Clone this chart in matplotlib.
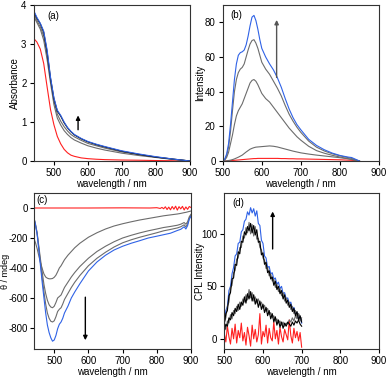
import numpy as np
import matplotlib
matplotlib.use('Agg')
import matplotlib.pyplot as plt

plt.rcParams['font.family'] = ['Liberation Sans', 'DejaVu Sans']
plt.rcParams['font.size'] = 7
plt.rcParams['axes.unicode_minus'] = False

BLUE = '#2f62e6'
RED = '#ff2020'
GREY = '#6c6c6c'
BLACK = '#000000'

# (a) absorbance
abs_wl = [440, 450, 460, 470, 480, 490, 500, 510, 520, 530, 540, 550, 560, 580,
          600, 625, 650, 700, 750, 800, 850, 900]
abs_red = [3.15, 3.05, 2.87, 2.5, 1.9, 1.32, 0.93, 0.63, 0.44, 0.3, 0.21, 0.15,
           0.12, 0.08, 0.06, 0.045, 0.035, 0.025, 0.02, 0.012, 0.006, 0.0]
abs_grey1 = [3.72, 3.55, 3.38, 3.1, 2.6, 2.0, 1.45, 1.1, 0.92, 0.78, 0.68, 0.6,
             0.54, 0.46, 0.39, 0.33, 0.28, 0.2, 0.14, 0.09, 0.04, 0.0]
abs_grey2 = [3.78, 3.6, 3.44, 3.2, 2.7, 2.08, 1.53, 1.2, 1.02, 0.88, 0.77, 0.68,
             0.62, 0.53, 0.45, 0.39, 0.33, 0.23, 0.16, 0.1, 0.045, 0.0]
abs_black = [3.84, 3.66, 3.52, 3.3, 2.8, 2.12, 1.6, 1.28, 1.15, 0.98, 0.85, 0.75,
             0.67, 0.57, 0.49, 0.42, 0.36, 0.25, 0.17, 0.1, 0.05, 0.0]
abs_blue = [3.87, 3.68, 3.53, 3.33, 2.85, 2.15, 1.62, 1.3, 1.17, 1.0, 0.86, 0.76,
            0.68, 0.58, 0.5, 0.43, 0.37, 0.26, 0.18, 0.11, 0.05, 0.0]

# (b) emission
em_wl = [500, 505, 510, 515, 520, 525, 530, 535, 540, 545, 550, 555, 560, 565,
         570, 575, 580, 585, 590, 595, 600, 610, 620, 630, 640, 650, 660, 670,
         680, 690, 700, 720, 740, 760, 780, 800, 820, 830, 840, 850]
em_red = [0, 0, 0, 0.1, 0.2, 0.3, 0.4, 0.5, 0.6, 0.7, 0.8, 0.9, 1.0, 1.1,
          1.2, 1.3, 1.4, 1.4, 1.5, 1.5, 1.5, 1.5, 1.5, 1.5, 1.5, 1.4, 1.4, 1.3,
          1.3, 1.2, 1.2, 1.1, 1.0, 0.9, 0.8, 0.7, 0.5, 0.4, 0.2, 0]
em_grey1 = [0, 0, 0.1, 0.3, 0.5, 0.8, 1.2, 1.7, 2.2, 2.8, 3.4, 4.3, 5.2, 6.0,
            6.8, 7.3, 7.7, 8.0, 8.1, 8.2, 8.3, 8.5, 8.7, 8.5, 8.1, 7.5, 6.9, 6.3,
            5.7, 5.2, 4.7, 4.0, 3.4, 2.9, 2.4, 1.9, 1.3, 0.9, 0.5, 0]
em_grey2 = [0, 0.5, 2, 5, 10, 15, 21, 26, 29, 31, 33, 36, 39, 42,
            45, 46.5, 47, 46, 44, 41.5, 39, 36, 34, 31, 28, 25, 22, 19,
            16.5, 14, 12, 8.5, 6, 4.5, 3.3, 2.3, 1.4, 0.9, 0.4, 0]
em_grey3 = [0, 0.8, 3, 8, 17, 29, 40, 47, 51, 53, 54, 56, 60, 64,
            67.5, 69.5, 70, 68, 65, 61, 57, 53, 50, 46, 42, 37.5, 32, 27,
            23, 19.5, 16.5, 11.5, 8, 5.8, 4.2, 3.0, 2.0, 1.5, 0.7, 0]
em_blue = [0, 1, 4, 10, 21, 34, 47, 56, 61, 62.5, 63, 64, 67, 72,
           78, 83, 84, 81, 76, 70, 65, 60, 56, 52.5, 48, 42.5, 36, 30,
           25, 21, 18, 12.5, 9, 6.5, 4.6, 3.2, 2.3, 2.0, 1.0, 0]

# (c) CD
cd_wl = [440, 445, 450, 455, 460, 465, 470, 475, 480, 485, 490, 495, 500, 505,
         510, 515, 520, 525, 530, 540, 550, 560, 575, 600, 625, 650, 675, 700,
         725, 750, 775, 800, 820, 840, 860, 870, 880, 885, 890, 895, 900]
cd_blue = [-58, -110, -175, -280, -390, -500, -600, -700, -780, -830, -865, -888,
           -880, -850, -805, -775, -760, -735, -700, -655, -600, -560, -505, -420,
           -360, -315, -280, -255, -235, -218, -200, -188, -178, -168, -150, -142,
           -125, -140, -118, -75, -55]
cd_grey3 = [-60, -110, -170, -270, -370, -470, -560, -640, -700, -735, -755, -760,
            -752, -725, -690, -675, -665, -640, -610, -570, -530, -495, -450, -385,
            -335, -295, -260, -232, -212, -195, -180, -165, -152, -143, -133, -125,
            -112, -126, -106, -68, -48]
cd_grey2 = [-60, -105, -165, -255, -345, -430, -510, -570, -615, -645, -660, -665,
            -655, -630, -600, -590, -580, -555, -530, -495, -460, -430, -390, -335,
            -290, -255, -225, -200, -182, -166, -152, -140, -130, -123, -115, -108,
            -97, -108, -92, -58, -42]
cd_grey1 = [-200, -230, -270, -320, -365, -405, -440, -460, -468, -472, -472, -470,
            -462, -448, -425, -400, -385, -365, -345, -315, -290, -265, -235, -195,
            -165, -140, -120, -105, -92, -80, -70, -60, -52, -46, -40, -36,
            -31, -29, -26, -23, -20]
cd_red_wl = [440, 500, 600, 700, 780, 800, 810, 815, 820, 825, 830, 835, 840, 845,
             850, 855, 860, 865, 870, 875, 880, 885, 890, 895, 900]
cd_red = [0, 0, 0, 1, 0, 2, -3, 4, -5, 8, -10, 6, -12, 10, -8, 12, -14, 9, -6,
          11, -13, 7, -9, 10, 3]

# (d) CPL
cpl_wl = list(range(500, 701, 4))
cpl_blue = [17, 27, 31, 46, 50, 62, 68, 79, 81, 91, 92, 102, 104, 112, 114, 121,
            118, 125, 120, 124, 117, 122, 110, 108, 94, 91, 79, 77, 68, 69, 62, 63,
            57, 58, 52, 54, 48, 50, 43, 44, 38, 39, 33, 35, 28, 30, 24, 25, 19, 21, 15]
cpl_black_hi = [14, 24, 27, 41, 44, 57, 58, 71, 70, 83, 81, 93, 92, 102, 99, 107,
                103, 110, 101, 108, 99, 104, 92, 93, 80, 82, 71, 73, 63, 65, 57, 59,
                51, 55, 47, 50, 43, 46, 38, 42, 34, 37, 30, 33, 26, 29, 22, 26, 18, 22, 16]
cpl_grey_hi = [16, 20, 31, 35, 49, 51, 63, 65, 76, 77, 87, 87, 98, 96, 106, 101,
               111, 100, 109, 98, 107, 95, 96, 87, 85, 77, 75, 67, 68, 60, 62, 55,
               57, 49, 52, 45, 48, 41, 44, 36, 39, 32, 35, 28, 31, 24, 27, 20, 24, 17, 20]
cpl_black_lo = [7, 14, 12, 20, 18, 25, 22, 29, 26, 33, 28, 35, 32, 40, 34, 43,
                38, 45, 36, 42, 33, 38, 30, 36, 28, 33, 25, 30, 22, 27, 19, 24,
                16, 21, 13, 18, 11, 16, 10, 15, 12, 16, 14, 12, 16, 13, 17, 15, 18, 14, 12]
cpl_grey_lo = [11, 9, 17, 15, 23, 19, 27, 24, 31, 27, 35, 31, 38, 35, 42, 37,
               47, 39, 44, 36, 40, 34, 38, 32, 35, 29, 32, 26, 29, 23, 25, 20,
               22, 17, 19, 15, 17, 13, 16, 12, 15, 14, 18, 16, 20, 17, 22, 19, 24, 21, 18]
cpl_red = [5, -3, 12, 2, -5, 10, 0, 14, -4, 8, 1, 15, -2, 6, -6, 11,
           3, -7, 13, 0, 9, -3, 4, 24, -5, 7, 2, 13, -4, 10, 1, -2,
           16, 0, 8, -5, 11, 2, -3, 9, 4, -1, 18, 3, -4, 10, 1, 7, -2, 6, -8]

W, H = 390, 380
fig = plt.figure(figsize=(W / 100, H / 100), dpi=100)


def make_ax(l, r, t, b):
    return fig.add_axes([l / W, (H - b) / H, (r - l) / W, (b - t) / H])


ax_a = make_ax(33.5, 190, 5, 161)
ax_b = make_ax(222.7, 379, 5, 161)
ax_c = make_ax(33.7, 191, 193, 349)
ax_d = make_ax(224.3, 379, 193, 349.3)

lw = 0.8

ax_a.plot(abs_wl, abs_red, color=RED, lw=lw)
ax_a.plot(abs_wl, abs_grey1, color=GREY, lw=lw)
ax_a.plot(abs_wl, abs_grey2, color=GREY, lw=lw)
ax_a.plot(abs_wl, abs_black, color=BLACK, lw=lw)
ax_a.plot(abs_wl, abs_blue, color=BLUE, lw=lw)
ax_a.set_xlim(440, 900)
ax_a.set_ylim(0, 4)
ax_a.set_xticks([500, 600, 700, 800, 900])
ax_a.set_yticks([0, 1, 2, 3, 4])
ax_a.set_ylabel('Absorbance')
ax_a.yaxis.set_label_coords(-0.086, 0.5)
ax_a.annotate('', xy=(571, 1.24), xytext=(571, 0.73),
              arrowprops=dict(arrowstyle='-|>', color=BLACK, lw=1.0, mutation_scale=6))
ax_a.text(0.09, 0.93, '(a)', transform=ax_a.transAxes, va='center')

ax_b.plot(em_wl, em_red, color=RED, lw=lw)
ax_b.plot(em_wl, em_grey1, color=GREY, lw=lw)
ax_b.plot(em_wl, em_grey2, color=GREY, lw=lw)
ax_b.plot(em_wl, em_grey3, color=GREY, lw=lw)
ax_b.plot(em_wl, em_blue, color=BLUE, lw=lw)
ax_b.set_xlim(500, 900)
ax_b.set_ylim(0, 90)
ax_b.set_xticks([500, 600, 700, 800, 900])
ax_b.set_yticks([0, 20, 40, 60, 80])
ax_b.set_ylabel('Intensity')
ax_b.yaxis.set_label_coords(-0.113, 0.5)
ax_b.annotate('', xy=(638, 83), xytext=(638, 46.6),
              arrowprops=dict(arrowstyle='-|>', color='#555555', lw=1.0, mutation_scale=6))
ax_b.text(0.05, 0.935, '(b)', transform=ax_b.transAxes, va='center')

ax_c.plot(cd_red_wl, cd_red, color=RED, lw=lw)
ax_c.plot(cd_wl, cd_grey1, color=GREY, lw=lw)
ax_c.plot(cd_wl, cd_grey2, color=GREY, lw=lw)
ax_c.plot(cd_wl, cd_grey3, color=GREY, lw=lw)
ax_c.plot(cd_wl, cd_blue, color=BLUE, lw=lw)
ax_c.set_xlim(440, 900)
ax_c.set_ylim(-940, 100)
ax_c.set_xticks([500, 600, 700, 800, 900])
ax_c.set_yticks([0, -200, -400, -600, -800])
ax_c.set_ylabel('θ / mdeg', fontsize=6.5)
ax_c.yaxis.set_label_coords(-0.15, 0.5)
ax_c.annotate('', xy=(591, -900), xytext=(591, -576),
              arrowprops=dict(arrowstyle='-|>', color=BLACK, lw=1.0, mutation_scale=6))
ax_c.text(0.02, 0.955, '(c)', transform=ax_c.transAxes, va='center')

ax_d.plot(cpl_wl, cpl_red, color=RED, lw=lw)
ax_d.plot(cpl_wl, cpl_grey_lo, color=GREY, lw=lw)
ax_d.plot(cpl_wl, cpl_black_lo, color=BLACK, lw=lw)
ax_d.plot(cpl_wl, cpl_blue, color=BLUE, lw=lw)
ax_d.plot(cpl_wl, cpl_grey_hi, color=GREY, lw=lw)
ax_d.plot(cpl_wl, cpl_black_hi, color=BLACK, lw=lw)
ax_d.set_xlim(500, 900)
ax_d.set_ylim(-10, 139)
ax_d.set_xticks([500, 600, 700, 800, 900])
ax_d.set_yticks([0, 50, 100])
ax_d.set_ylabel('CPL Intensity')
ax_d.yaxis.set_label_coords(-0.125, 0.5)
ax_d.annotate('', xy=(625, 124), xytext=(625, 83),
              arrowprops=dict(arrowstyle='-|>', color=BLACK, lw=1.0, mutation_scale=6))
ax_d.text(0.05, 0.935, '(d)', transform=ax_d.transAxes, va='center')

for ax in (ax_a, ax_b, ax_c, ax_d):
    ax.set_xlabel('wavelength / nm')
    ax.xaxis.set_label_coords(0.5, -0.115)
    ax.tick_params(direction='out', length=3, width=0.8, pad=2, labelsize=7)
    for sp in ax.spines.values():
        sp.set_linewidth(0.8)
        sp.set_color('#333333')
ax_c.tick_params(axis='y', pad=1.2)

fig.savefig('out.png', dpi=100)
